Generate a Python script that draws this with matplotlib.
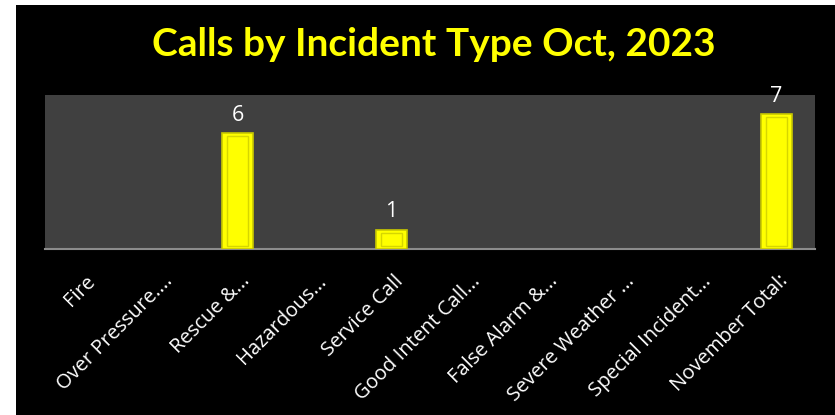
import matplotlib
matplotlib.use("Agg")
import matplotlib.pyplot as plt
from matplotlib.patches import Rectangle
import matplotlib.transforms as mtransforms
import numpy as np

# chart data
categories = ["Fire", "Over Pressure....", "Rescue &...", "Hazardous...",
              "Service Call", "Good Intent Call...", "False Alarm &...",
              "Severe Weather ...", "Special Incident...", "November Total:"]
calls = [0, 0, 6, 0, 1, 0, 0, 0, 0, 7]
title = "Calls by Incident Type Oct, 2023"

fig = plt.figure(figsize=(8.35, 4.15), dpi=100, facecolor="white")
# black slide background (white strip on left and top like the screenshot)
fig.patches.append(Rectangle((16 / 835, 0), 1, 1 - 5 / 415, transform=fig.transFigure,
                             facecolor="black", edgecolor="none", zorder=-10))

ax = fig.add_axes([45 / 835, 1 - 249 / 415, 770 / 835, 154 / 415])
ax.set_facecolor("#404040")

x = np.arange(len(categories))
vals = np.array(calls, dtype=float)
shown = vals > 0

# bars with a little bevel look
ax.bar(x[shown], vals[shown], width=0.39, color="#FFFF00", edgecolor="#C8C800",
       linewidth=1.2, zorder=3)
ax.bar(x[shown], vals[shown] - 0.3, bottom=0.15, width=0.27, fill=False,
       edgecolor="#D6D600", linewidth=1, zorder=4)

for xi, v in zip(x[shown], vals[shown]):
    ax.text(xi, v + 0.4, f"{int(v)}", ha="center", va="bottom", color="white",
            fontsize=15.5, family="Open Sans")

ax.set_xlim(-0.5, len(categories) - 0.5)
ax.set_ylim(0, 8)
ax.set_yticks([])
ax.set_xticks(x)
ax.set_xticklabels(categories, rotation=45, ha="right", va="top", rotation_mode="anchor",
                   color="white", fontsize=14.5, family="Open Sans")
ax.tick_params(axis="x", length=0, pad=16)
shift = mtransforms.ScaledTranslation(2 / 100, 0, fig.dpi_scale_trans)
for lab in ax.get_xticklabels():
    lab.set_transform(lab.get_transform() + shift)

for side in ["top", "left", "right"]:
    ax.spines[side].set_visible(False)
ax.spines["bottom"].set_color("#8C8C8C")
ax.spines["bottom"].set_linewidth(1.5)

fig.text(0.52, 1 - 45 / 415, title, ha="center", va="center", color="#FFFF00",
         fontsize=28, fontweight="bold", family="Lato")

fig.savefig("out.png", dpi=100, facecolor=fig.get_facecolor())
